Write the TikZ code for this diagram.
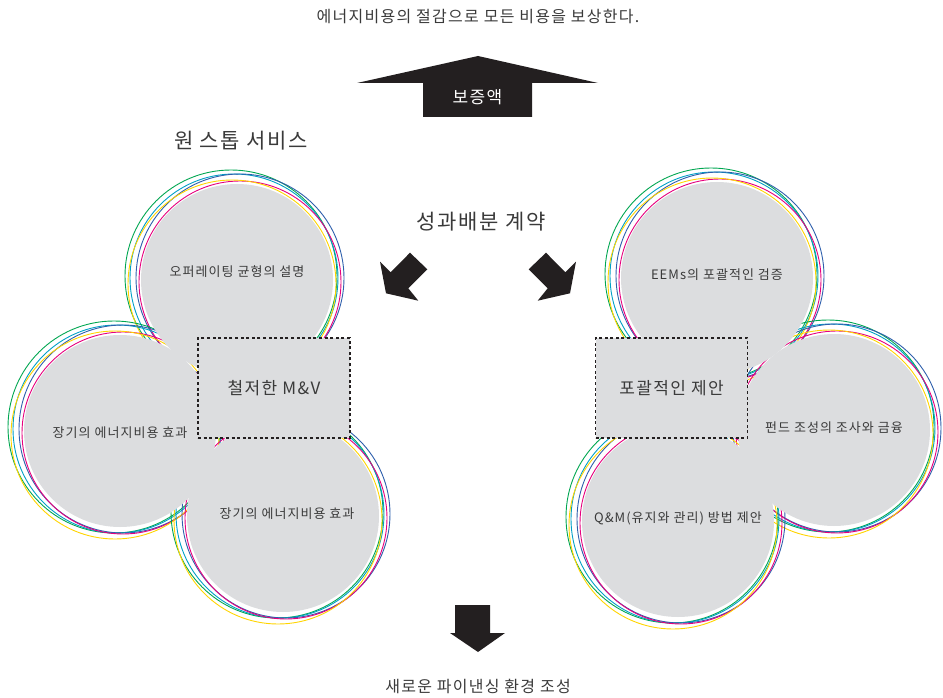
\documentclass[tikz,border=0pt]{standalone}
\usepackage{fontspec}
\setmainfont{Noto Sans CJK KR}[LetterSpace=8]
\usepackage{xcolor}
\usepackage{tikz}
\usetikzlibrary{calc}
\definecolor{ink}{HTML}{3A3A3A}
\definecolor{arrowink}{HTML}{231F20}
\definecolor{discgray}{HTML}{DCDDDF}
\definecolor{ringG}{HTML}{00A651}
\definecolor{ringC}{HTML}{00A0C6}
\definecolor{ringB}{HTML}{2E5FAC}
\definecolor{ringM}{HTML}{E6007E}
\definecolor{ringY}{HTML}{FFD400}
\tikzset{
    ring/.style={line width=0.9pt},
    disc/.style={fill=discgray},
    mvbox/.style={draw=arrowink, fill=discgray, line width=1.6pt, dash pattern=on 3pt off 2.6pt,
        minimum width=152pt, minimum height=100pt, inner sep=0pt, text=ink, font=\fontsize{17}{20}\selectfont},
    bubbletext/.style={text=ink, font=\fontsize{13}{16}\selectfont},
    headline/.style={text=ink, font=\fontsize{21}{25}\selectfont},
    caption/.style={text=ink, font=\fontsize{16}{19}\selectfont},
    blockarrow/.style={fill=arrowink}
}

\begin{document}
\begin{tikzpicture}[x=1pt, y=-1pt]
    \useasboundingbox (0,0) rectangle (943,698);
    \coordinate (c1) at (237,280);
    \coordinate (c2) at (120,431);
    \coordinate (c3) at (283,516);
    \coordinate (c4) at (717,278);
    \coordinate (c5) at (834,430);
    \coordinate (c6) at (678,521);
    \foreach \c in {c1,c2,c3,c4,c5,c6}
        \foreach \col/\dx/\dy/\r in {ringG/-6/-4/106, ringC/-3/-2/104, ringB/3/-2/104, ringM/3/2/101, ringY/-5/4/104}
            \draw[ring, \col] ($(\c)+(\dx,\dy)$) circle[radius=\r pt];
    \foreach \c in {c1,c2,c3,c4,c5,c6}
        \fill[disc] (\c) circle[radius=96pt];
    \node[mvbox] (mv) at (274,388) {철저한 M\&V};
    \node[mvbox] (offer) at (671.5,388) {포괄적인 제안};
    \node[bubbletext] (op) at (237,272) {오퍼레이팅 균형의 설명};
    \node[bubbletext] (long1) at (120,433) {장기의 에너지비용 효과};
    \node[bubbletext] (long2) at (287,514) {장기의 에너지비용 효과};
    \node[bubbletext] (eem) at (717,275) {EEMs의 포괄적인 검증};
    \node[bubbletext] (fund) at (834,428) {펀드 조성의 조사와 금융};
    \node[bubbletext] (om) at (678,518) {Q\&M(유지와 관리) 방법 제안};
    \node[caption] (top) at (478,17) {에너지비용의 절감으로 모든 비용을 보상한다.};
    \node[headline] (onestop) at (241,141) {원 스톱 서비스};
    \node[headline] (share) at (481,222) {성과배분 계약};
    \node[caption] (bottom) at (478,686) {새로운 파이낸싱 환경 조성};
    \fill[blockarrow] (357,83) -- (478,56) -- (598,83) -- (532,83) -- (532,117) -- (423,117) -- (423,83) -- cycle;
    \node[text=white, font=\fontsize{17}{20}\selectfont] (comp) at (477.5,97) {보증액};
    \fill[blockarrow] (455,605) -- (490,605) -- (490,633) -- (505,633) -- (478,652) -- (450,633) -- (455,633) -- cycle;
    \fill[blockarrow] (410,252.7) -- (427.3,269.3) -- (408.3,288.3) -- (418.3,300.7) -- (386,293.3) -- (380,261.7) -- (390.7,272.3) -- cycle;
    \fill[blockarrow] (546,252.7) -- (528.7,269.3) -- (547.7,288.3) -- (537.7,300.7) -- (570,293.3) -- (576,261.7) -- (565.3,272.3) -- cycle;
\end{tikzpicture}
\end{document}
